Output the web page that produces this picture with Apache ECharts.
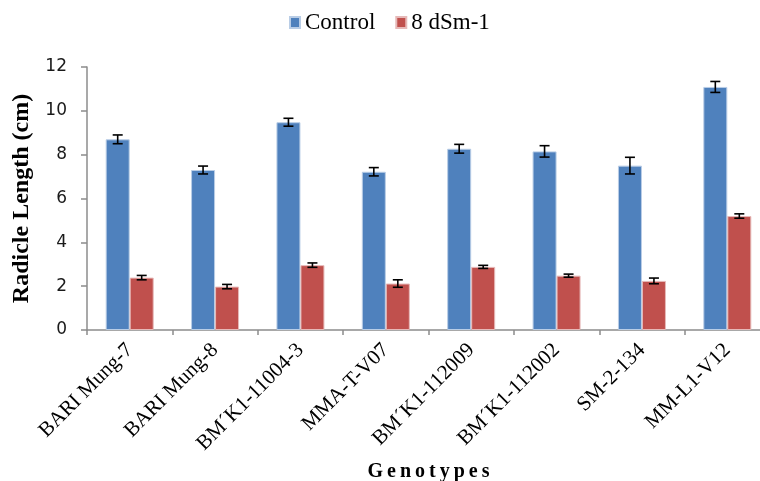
<!DOCTYPE html>
<html>
<head>
<meta charset="utf-8">
<script src="https://cdn.jsdelivr.net/npm/echarts@6/dist/echarts.min.js"></script>
<style>
  html, body { margin: 0; padding: 0; background: #fff; }
  #chart { width: 760px; height: 481px; }
</style>
</head>
<body>
<div id="chart"></div>
<script>
// Radicle length of mungbean genotypes under control and 8 dSm-1 salinity
const genotypes = ['BARI Mung-7', 'BARI Mung-8', 'BM\u00B4K1-11004-3', 'MMA-T-V07',
                   'BM\u00B4K1-112009', 'BM\u00B4K1-112002', 'SM-2-134', 'MM-L1-V12'];
const controlMean = [8.70, 7.30, 9.48, 7.22, 8.27, 8.15, 7.50, 11.09];
const controlErr  = [0.20, 0.18, 0.18, 0.19, 0.20, 0.26, 0.38, 0.25];
const salineMean  = [2.39, 1.98, 2.96, 2.12, 2.88, 2.48, 2.24, 5.20];
const salineErr   = [0.10, 0.10, 0.10, 0.17, 0.07, 0.07, 0.13, 0.10];
const yTicks = [0, 2, 4, 6, 8, 10, 12];

const BAR_W = 24;
const chart = echarts.init(document.getElementById('chart'));

// whisker drawn at a bar's centre, shifted sideways by half a bar
function errorSeries(means, errs, shift) {
  return {
    type: 'custom',
    silent: true,
    z: 10,
    data: means.map((m, i) => [i, m - errs[i], m + errs[i]]),
    renderItem: function (params, api) {
      const lo = api.coord([api.value(0), api.value(1)]);
      const hi = api.coord([api.value(0), api.value(2)]);
      const x = lo[0] + shift;
      const cap = 5;
      const st = { stroke: '#000', lineWidth: 1.6 };
      return {
        type: 'group',
        children: [
          { type: 'line', shape: { x1: x, y1: hi[1], x2: x, y2: lo[1] }, style: st },
          { type: 'line', shape: { x1: x - cap, y1: hi[1], x2: x + cap, y2: hi[1] }, style: st },
          { type: 'line', shape: { x1: x - cap, y1: lo[1], x2: x + cap, y2: lo[1] }, style: st }
        ]
      };
    }
  };
}

chart.setOption({
  animation: false,
  backgroundColor: '#fff',
  legend: {
    top: 6,
    left: 284,
    itemWidth: 10,
    itemHeight: 11,
    itemGap: 20,
    icon: 'rect',
    textStyle: { fontFamily: 'Liberation Serif', fontSize: 23, color: '#000' },
    data: ['Control', '8 dSm-1']
  },
  // the plot runs slightly past the right edge of the canvas
  grid: { left: 87, top: 67, width: 683, bottom: 151, outerBoundsMode: 'none', containLabel: false },
  xAxis: {
    type: 'category',
    data: genotypes,
    name: 'G\u2009e\u2009n\u2009o\u2009t\u2009y\u2009p\u2009e\u2009s',
    nameLocation: 'middle',
    nameGap: 128,
    nameTextStyle: { fontFamily: 'Liberation Serif', fontWeight: 'bold', fontSize: 20, color: '#000' },
    axisLine: { lineStyle: { color: '#8c8c8c', width: 1.5 } },
    axisTick: { show: true, length: 5, lineStyle: { color: '#8c8c8c', width: 1.5 } },
    axisLabel: { rotate: 45, interval: 0, margin: 17, fontFamily: 'Liberation Serif', fontSize: 21, color: '#000' }
  },
  yAxis: {
    type: 'value',
    min: yTicks[0],
    max: yTicks[yTicks.length - 1],
    interval: 2,
    name: 'Radicle Length (cm)',
    nameLocation: 'middle',
    nameGap: 53,
    nameTextStyle: { fontFamily: 'Liberation Serif', fontWeight: 'bold', fontSize: 24, color: '#000' },
    axisLine: { show: true, lineStyle: { color: '#8c8c8c', width: 1.5 } },
    axisTick: { show: true, length: 6, lineStyle: { color: '#8c8c8c', width: 1.5 } },
    splitLine: { show: false },
    axisLabel: { margin: 20, fontFamily: 'DejaVu Sans', fontSize: 17, color: '#1a1a1a' }
  },
  series: [
    {
      name: 'Control', type: 'bar', data: controlMean, barWidth: BAR_W, barGap: '0%',
      itemStyle: { color: '#4F81BD', borderColor: '#b9cde6', borderWidth: 1 }
    },
    {
      name: '8 dSm-1', type: 'bar', data: salineMean, barWidth: BAR_W, barGap: '0%',
      itemStyle: { color: '#C0504D', borderColor: '#e6b9b8', borderWidth: 1 }
    },
    errorSeries(controlMean, controlErr, -BAR_W / 2),
    errorSeries(salineMean, salineErr, BAR_W / 2)
  ]
});
</script>
</body>
</html>
